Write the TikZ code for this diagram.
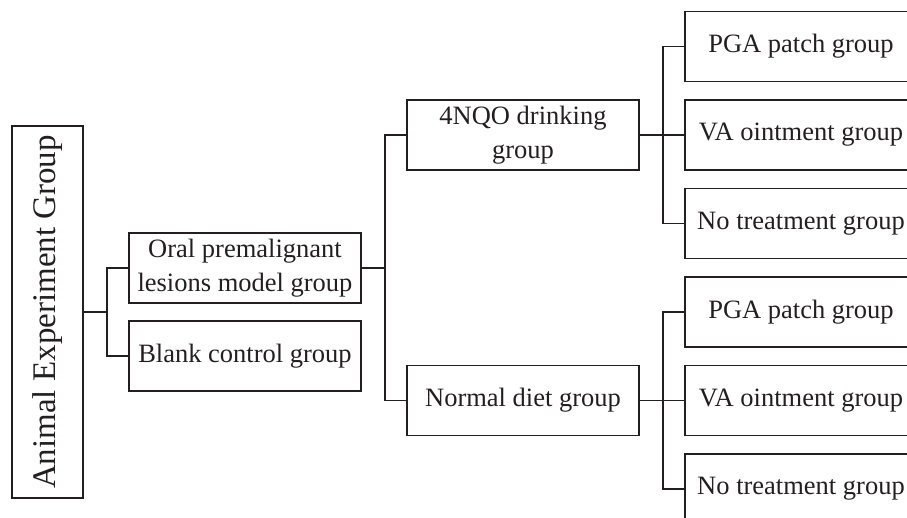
\documentclass[tikz,border=0pt]{standalone}
\usepackage{fontspec}
\setmainfont{Liberation Serif}
\usepackage{graphicx}
\definecolor{ink}{HTML}{231F20}

\begin{document}
\begin{tikzpicture}
[
    x=1pt, y=1pt,
    grow'=right,
    level 1/.style={sibling distance=88.5pt, level distance=197.5pt},
    level 2/.style={sibling distance=265.5pt, level distance=278pt},
    level 3/.style={sibling distance=88.5pt, level distance=278pt},
    grp/.style={draw=ink, text=ink, line width=1.9pt, minimum width=232pt, minimum height=70pt,
        inner sep=0pt, align=center, font=\fontsize{26.5}{34}\selectfont},
    edge from parent/.style={draw=ink, line width=1.9pt},
    edge from parent path={(\tikzparentnode.east) -- ++(23pt,0) |- (\tikzchildnode.west)}
]
    \useasboundingbox (0,0) rectangle (907,-517);

    \node [draw=ink, text=ink, line width=1.9pt, minimum width=71pt, minimum height=372pt, inner sep=0pt] (root) at (47.5,-312)
        {\fontsize{33}{40}\selectfont\rotatebox{90}{Animal Experiment Group}}
        child {
            node [grp] (model) {Oral premalignant\\lesions model group}
            child {
                node [grp] (nqo) {4NQO drinking\\group}
                child {node [grp] (nqoPga) {PGA patch group}}
                child {node [grp] (nqoVa) {VA ointment group}}
                child {node [grp] (nqoNone) {No treatment group}}
            }
            child {
                node [grp] (normal) {Normal diet group}
                child {node [grp] (normPga) {PGA patch group}}
                child {node [grp] (normVa) {VA ointment group}}
                child {node [grp] (normNone) {No treatment group}}
            }
        }
        child {node [grp] (blank) {Blank control group}};
\end{tikzpicture}
\end{document}
